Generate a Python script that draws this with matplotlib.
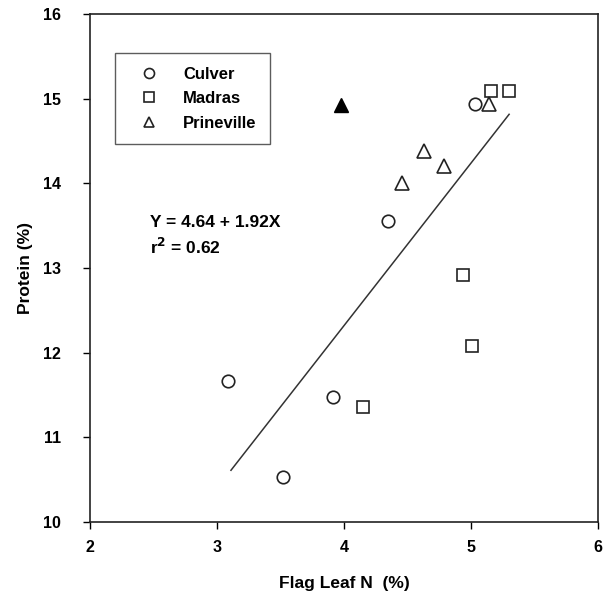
import numpy as np
import matplotlib
matplotlib.use("Agg")
import matplotlib.pyplot as plt

plt.rcParams['font.family'] = ['Liberation Sans', 'DejaVu Sans']

# data
culver_x = [3.09, 3.52, 3.91, 4.35, 5.03]
culver_y = [11.67, 10.53, 11.48, 13.56, 14.94]
madras_x = [4.15, 4.94, 5.01, 5.16, 5.30]
madras_y = [11.36, 12.92, 12.08, 15.09, 15.09]
prine_x = [4.46, 4.63, 4.79, 5.14]
prine_y = [14.01, 14.38, 14.21, 14.94]
outlier_x = [3.98]
outlier_y = [14.93]

fit_a, fit_b = 4.64, 1.92
fit_range = [3.11, 5.30]

fig = plt.figure(figsize=(6.08, 5.99), dpi=100)
ax = fig.add_axes([0.148, 0.1285, 0.8356, 0.848])

ax.plot(culver_x, culver_y, 'o', mfc='white', mec='#222222', mew=1.2, ms=9, ls='none', label='Culver')
ax.plot(madras_x, madras_y, 's', mfc='white', mec='#222222', mew=1.2, ms=8.5, ls='none', label='Madras')
ax.plot(prine_x, prine_y, '^', mfc='white', mec='#222222', mew=1.2, ms=9.5, ls='none', label='Prineville')
ax.plot(outlier_x, outlier_y, '^', color='black', ms=10, ls='none')

xf = np.array(fit_range)
ax.plot(xf, fit_a + fit_b * xf, color='#333333', lw=1.1)

ax.set_xlim(2, 6)
ax.set_ylim(10, 16)
ax.set_xticks([2, 3, 4, 5, 6])
ax.set_yticks([10, 11, 12, 13, 14, 15, 16])
ax.tick_params(direction='out', length=5, width=1, labelsize=11.5)
ax.tick_params(axis='x', pad=8)
ax.tick_params(axis='y', pad=16)
for lab in ax.get_xticklabels() + ax.get_yticklabels():
    lab.set_fontweight('bold')
for s in ax.spines.values():
    s.set_linewidth(1.2)
    s.set_color('#222222')

ax.set_xlabel('Flag Leaf N  (%)', fontsize=12.5, fontweight='bold', labelpad=15)
ax.set_ylabel('Protein (%)', fontsize=12.5, fontweight='bold', labelpad=7)

ax.text(2.47, 13.54, 'Y = 4.64 + 1.92X', fontsize=12.5, fontweight='bold', va='center')
ax.text(2.47, 13.25, r'r$^{\mathbf{2}}$ = 0.62', fontsize=12.5, fontweight='bold', va='center')

leg = ax.legend(loc='upper left', bbox_to_anchor=(0.049, 0.923), fontsize=12,
                frameon=True, fancybox=False, edgecolor='#333333',
                markerscale=0.8,
                handlelength=2.5, handletextpad=0.78, borderpad=0.8,
                labelspacing=0.58, borderaxespad=0)
leg.get_frame().set_linewidth(1.0)
for t in leg.get_texts():
    t.set_fontweight('bold')

fig.savefig('out.png', dpi=100)
